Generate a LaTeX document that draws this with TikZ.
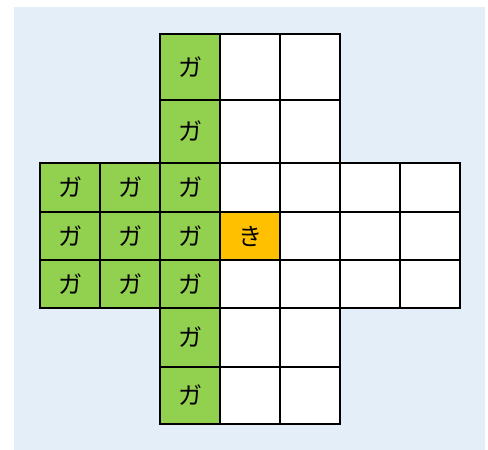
\documentclass[tikz,border=0pt]{standalone}
\usepackage{fontspec}
\newfontfamily\jp{Noto Sans CJK JP}
\definecolor{bgblue}{HTML}{E4EEF8}
\definecolor{cellgreen}{HTML}{92D050}
\definecolor{cellorange}{HTML}{FFC000}
\tikzset{
  cellbase/.style={draw=black, line width=2.3pt, inner sep=0pt, outer sep=0pt,
    font=\jp\fontsize{24}{24}\selectfont},
  gcell/.style={cellbase, fill=cellgreen},
  wcell/.style={cellbase, fill=white},
  ocell/.style={cellbase, fill=cellorange},
}
\newcommand\mycell[7]{\node[#6, minimum width=#4pt, minimum height=#5pt] (#1) at (#2,#3) {\raisebox{-1.5pt}{#7}};}
\begin{document}
\begin{tikzpicture}[x=1pt,y=-1pt]
\useasboundingbox (0,0) rectangle (488,450);
\fill[bgblue] (14,7) rectangle (485,450);
% row 1
\mycell{c11}{190}{67}{60}{66}{gcell}{ガ}
\mycell{c12}{250}{67}{60}{66}{wcell}{}
\mycell{c13}{310}{67}{60}{66}{wcell}{}
% row 2
\mycell{c21}{190}{131.5}{60}{63}{gcell}{ガ}
\mycell{c22}{250}{131.5}{60}{63}{wcell}{}
\mycell{c23}{310}{131.5}{60}{63}{wcell}{}
% rows 3-5
\foreach \r/\y/\h in {3/187.5/49, 4/236/48, 5/284/48}{
  \mycell{c\r a}{70}{\y}{60}{\h}{gcell}{ガ}
  \mycell{c\r b}{130}{\y}{60}{\h}{gcell}{ガ}
  \mycell{c\r c}{190}{\y}{60}{\h}{gcell}{ガ}
  \mycell{c\r e}{310}{\y}{60}{\h}{wcell}{}
  \mycell{c\r f}{370}{\y}{60}{\h}{wcell}{}
  \mycell{c\r g}{430}{\y}{60}{\h}{wcell}{}
}
\mycell{c3d}{250}{187.5}{60}{49}{wcell}{}
\mycell{c4d}{250}{236}{60}{48}{ocell}{き}
\mycell{c5d}{250}{284}{60}{48}{wcell}{}
% row 6
\mycell{c61}{190}{337.5}{60}{59}{gcell}{ガ}
\mycell{c62}{250}{337.5}{60}{59}{wcell}{}
\mycell{c63}{310}{337.5}{60}{59}{wcell}{}
% row 7
\mycell{c71}{190}{395.5}{60}{57}{gcell}{ガ}
\mycell{c72}{250}{395.5}{60}{57}{wcell}{}
\mycell{c73}{310}{395.5}{60}{57}{wcell}{}
\end{tikzpicture}
\end{document}
